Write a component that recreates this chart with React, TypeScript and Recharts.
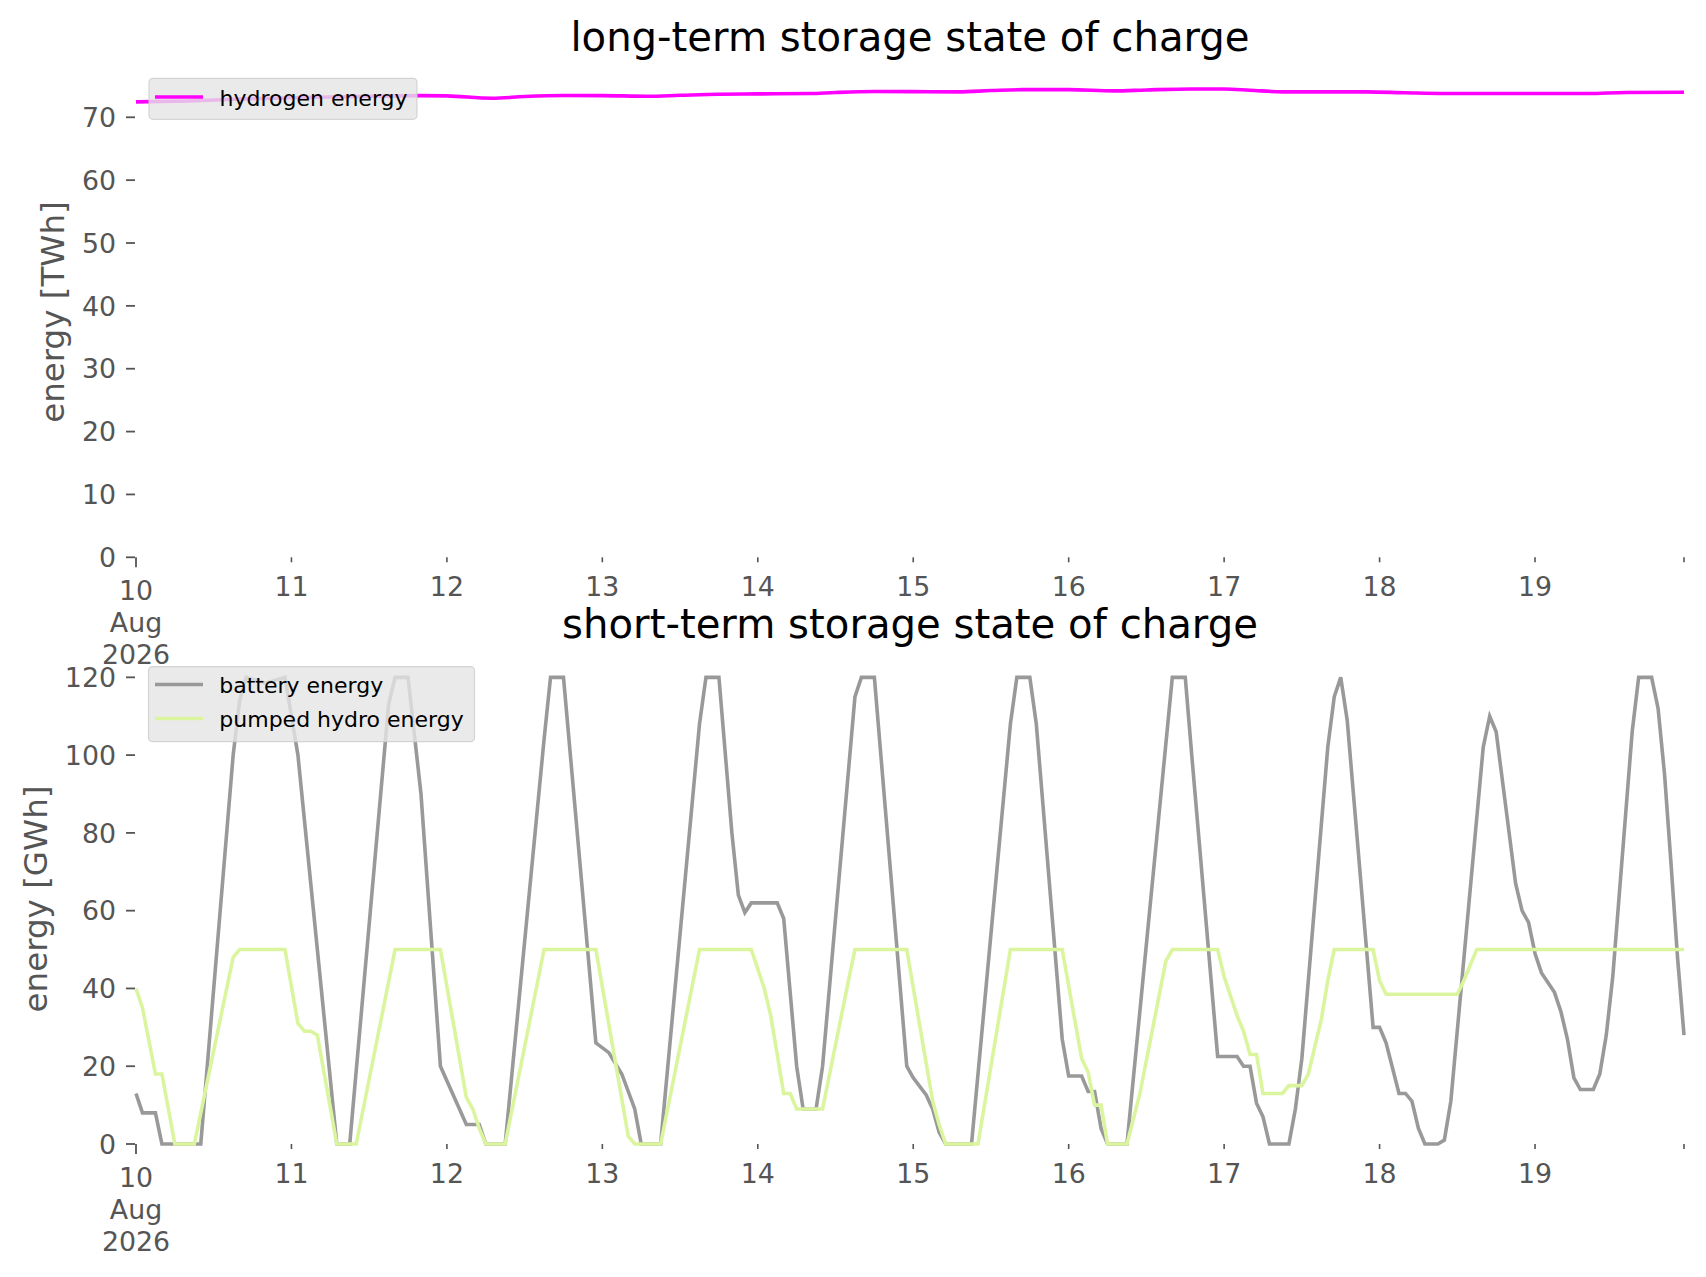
import React from 'react';
import { LineChart, Line, XAxis, YAxis } from 'recharts';

// ---------- data (hours since 10 Aug 2026 00:00) ----------
const hydrogenHours = [0, 8, 16, 24, 34, 44, 48, 55, 60, 66, 72, 79, 84, 90, 96, 104, 108, 114, 120, 127, 132, 137, 144, 151, 156, 163, 168, 172, 177, 190, 196, 202, 224, 230, 239];
const hydrogenTWh = [72.45, 72.6, 72.9, 73.1, 73.3, 73.45, 73.4, 73.03, 73.3, 73.46, 73.45, 73.35, 73.5, 73.67, 73.72, 73.78, 73.95, 74.1, 74.08, 74.05, 74.25, 74.4, 74.4, 74.2, 74.35, 74.5, 74.5, 74.3, 74.05, 74.05, 73.9, 73.78, 73.78, 73.95, 73.99];

const batteryHours = [0, 1, 3, 4, 10, 15, 16, 17, 20, 23, 25, 31, 33, 39, 40, 42, 44, 47, 51, 53, 54, 57, 63, 64, 66, 71, 73, 75, 77, 78, 81, 87, 88, 90, 92, 93, 94, 95, 99, 100, 102, 103, 105, 106, 111, 112, 114, 119, 120, 122, 123, 124, 125, 129, 135, 136, 138, 139, 143, 144, 146, 147, 148, 149, 150, 153, 160, 162, 163, 167, 170, 171, 172, 173, 174, 175, 178, 179, 180, 184, 185, 186, 187, 191, 192, 193, 195, 196, 197, 198, 199, 201, 202, 203, 208, 209, 210, 212, 213, 214, 215, 216, 217, 219, 220, 221, 222, 223, 225, 226, 227, 228, 229, 230, 231, 232, 234, 235, 236, 237, 238, 239];
const batteryGWh = [13, 8, 8, 0, 0, 100, 114, 120, 118.5, 120, 100, 0, 0, 113, 120, 120, 90, 20, 5, 5, 0, 0, 104, 120, 120, 26, 23.5, 18, 9, 0, 0, 108, 120, 120, 80, 64, 59.5, 62, 62, 58, 20, 9, 9, 20, 115, 120, 120, 20, 17, 12.6, 9, 3, 0, 0, 108, 120, 120, 108, 27, 17.5, 17.5, 13.5, 13.5, 4, 0, 0, 120, 120, 100, 22.5, 22.5, 20, 20, 10.5, 7, 0, 0, 9, 22, 102, 115, 120, 109, 30, 30, 26, 13, 13, 11, 4, 0, 0, 1, 11, 102, 110, 106, 80, 67, 60, 57, 49, 44, 39, 34, 27, 17, 14, 14, 18, 28, 43, 64, 85, 106, 120, 120, 112, 95, 72, 48, 28];

const pumpedHours = [0, 1, 3, 4, 6, 9, 15, 16, 23, 25, 26, 27, 28, 31, 34, 40, 47, 51, 52, 53, 54, 57, 63, 71, 76, 77, 81, 87, 95, 97, 98, 100, 101, 102, 106, 110, 111, 119, 123, 124, 125, 130, 135, 143, 146, 147, 148, 149, 150, 153, 155, 159, 160, 167, 168, 170, 171, 172, 173, 174, 177, 178, 180, 181, 182, 183, 184, 185, 191, 192, 193, 204, 205, 207, 239];
const pumpedGWh = [40, 35, 18, 18, 0, 0, 48, 50, 50, 31, 29, 29, 28, 0, 0, 50, 50, 12, 9, 4, 0, 0, 50, 50, 2, 0, 0, 50, 50, 40, 33, 13, 13, 9, 9, 42, 50, 50, 11, 5, 0, 0, 50, 50, 22, 18.5, 10, 10, 0, 0, 13, 47, 50, 50, 43, 33, 29, 23, 23, 13, 13, 15, 15, 18, 25, 32, 42, 50, 50, 42, 38.5, 38.5, 42, 50, 50];

const tickHours = [0, 24, 48, 72, 96, 120, 144, 168, 192, 216, 239];
const tickLabels = ['10', '11', '12', '13', '14', '15', '16', '17', '18', '19', ''];
const monthLabel = 'Aug';
const yearLabel = '2026';
const longTicks = [0, 10, 20, 30, 40, 50, 60, 70];
const shortTicks = [0, 20, 40, 60, 80, 100, 120];

const zip = (hs: number[], vs: number[]) => hs.map((h, i) => ({ h, v: vs[i] }));
const hydrogenData = zip(hydrogenHours, hydrogenTWh);
const batteryData = zip(batteryHours, batteryGWh);
const pumpedData = zip(pumpedHours, pumpedGWh);

const GREY = '#555555';
const TICK_FS = 26.8;
const LW = 3.6;
const FONT = '"DejaVu Sans", sans-serif';

const XTick = (props: any) => {
  const { x, y, payload } = props;
  const v = payload.value;
  const idx = tickHours.indexOf(v);
  const label = idx >= 0 ? tickLabels[idx] : '';
  if (v === 0) {
    return (
      <g>
        <line x1={x} x2={x} y1={y} y2={y + 10} stroke={GREY} strokeWidth={1.8} />
        <text x={x} y={y + 42.5} textAnchor="middle" fontSize={TICK_FS} fill={GREY}>{label}</text>
        <text x={x} y={y + 75} textAnchor="middle" fontSize={TICK_FS} fill={GREY}>{monthLabel}</text>
        <text x={x} y={y + 107} textAnchor="middle" fontSize={TICK_FS} fill={GREY}>{yearLabel}</text>
      </g>
    );
  }
  return (
    <g>
      <line x1={x} x2={x} y1={y} y2={y + 5} stroke={GREY} strokeWidth={1.6} />
      {label ? (
        <text x={x} y={y + 38.5} textAnchor="middle" fontSize={TICK_FS} fill={GREY}>{label}</text>
      ) : null}
    </g>
  );
};

const YTick = (props: any) => {
  const { x, y, payload } = props;
  return (
    <g>
      <line x1={x - 10} x2={x - 1} y1={y} y2={y} stroke={GREY} strokeWidth={1.8} />
      <text x={x - 20} y={y} dy="0.36em" textAnchor="end" fontSize={TICK_FS} fill={GREY}>{payload.value}</text>
    </g>
  );
};

export default function App() {
  return (
    <div style={{ position: 'absolute', left: 0, top: 0, width: 1706, height: 1277, background: '#ffffff', fontFamily: FONT, overflow: 'hidden' }}>
      {/* top chart */}
      <div style={{ position: 'absolute', left: 0, top: 0 }}>
        <LineChart width={1706} height={700} margin={{ top: 67, right: 22, bottom: 22.7, left: 0 }}>
          <XAxis dataKey="h" type="number" domain={[0, 239]} ticks={tickHours} interval={0} tickSize={0} tickMargin={0}
            axisLine={false} tickLine={false} height={120} tick={<XTick />} />
          <YAxis type="number" domain={[0, 78]} ticks={longTicks} interval={0} width={136} tickSize={0} tickMargin={0}
            axisLine={false} tickLine={false} tick={<YTick />} />
          <Line data={hydrogenData} dataKey="v" type="monotone" stroke="#ff00ff" strokeWidth={LW} dot={false}
            activeDot={false} isAnimationActive={false} />
        </LineChart>
      </div>
      {/* bottom chart */}
      <div style={{ position: 'absolute', left: 0, top: 587 }}>
        <LineChart width={1706} height={690} margin={{ top: 67, right: 22, bottom: 13, left: 0 }}>
          <XAxis dataKey="h" type="number" domain={[0, 239]} ticks={tickHours} interval={0} tickSize={0} tickMargin={0}
            axisLine={false} tickLine={false} height={120} tick={<XTick />} />
          <YAxis type="number" domain={[0, 126]} ticks={shortTicks} interval={0} width={136} tickSize={0} tickMargin={0}
            axisLine={false} tickLine={false} tick={<YTick />} />
          <Line data={batteryData} dataKey="v" type="linear" stroke="#999999" strokeWidth={LW} dot={false}
            activeDot={false} isAnimationActive={false} />
          <Line data={pumpedData} dataKey="v" type="linear" stroke="#dbf59f" strokeWidth={LW} dot={false}
            activeDot={false} isAnimationActive={false} />
        </LineChart>
      </div>
      {/* titles, axis labels, legends */}
      <svg width={1706} height={1277} style={{ position: 'absolute', left: 0, top: 0, pointerEvents: 'none' }}>
        <text x={910} y={51} textAnchor="middle" fontSize={40.2} fill="#000">long-term storage state of charge</text>
        <text x={910} y={638} textAnchor="middle" fontSize={40.2} fill="#000">short-term storage state of charge</text>
        <text transform="translate(53,312) rotate(-90)" textAnchor="middle" dy="0.35em" fontSize={32.5} fill={GREY}>energy [TWh]</text>
        <text transform="translate(36,899) rotate(-90)" textAnchor="middle" dy="0.35em" fontSize={32.5} fill={GREY}>energy [GWh]</text>

        <rect x={149} y={78.3} width={268} height={41} rx={4} fill="#e5e5e5" fillOpacity={0.8} stroke="#cccccc" strokeOpacity={0.8} strokeWidth={1.2} />
        <line x1={155} x2={203} y1={97} y2={97} stroke="#ff00ff" strokeWidth={LW} />
        <text x={219.5} y={105.5} fontSize={22} fill="#000">hydrogen energy</text>

        <rect x={148.5} y={666.7} width={326} height={75} rx={4} fill="#e5e5e5" fillOpacity={0.8} stroke="#cccccc" strokeOpacity={0.8} strokeWidth={1.2} />
        <line x1={155} x2={203} y1={684.5} y2={684.5} stroke="#999999" strokeWidth={LW} />
        <text x={219.3} y={693} fontSize={22} fill="#000">battery energy</text>
        <line x1={155} x2={203} y1={718.5} y2={718.5} stroke="#dbf59f" strokeWidth={LW} />
        <text x={219.3} y={727} fontSize={22} fill="#000">pumped hydro energy</text>
      </svg>
    </div>
  );
}
